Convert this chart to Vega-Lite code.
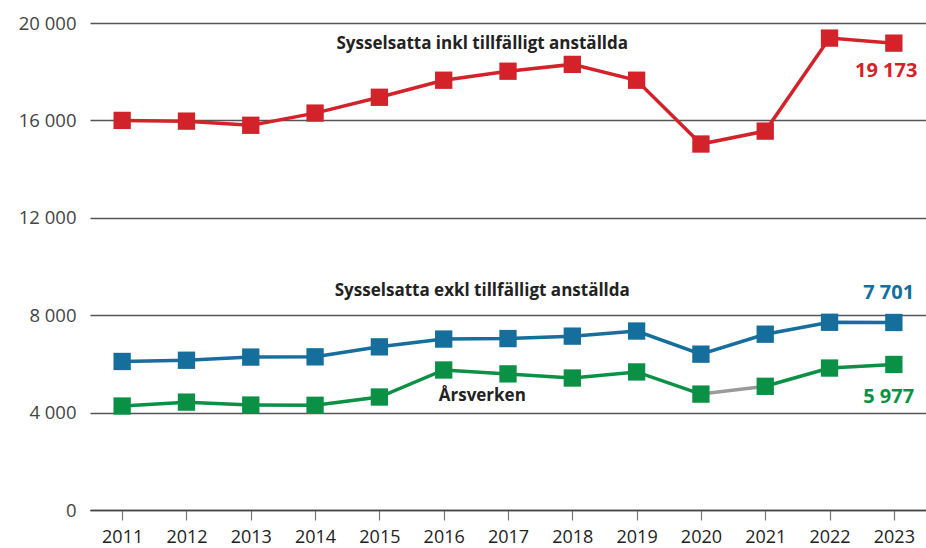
{
  "$schema": "https://vega.github.io/schema/vega-lite/v6.json",
  "autosize": {"type": "none"},
  "width": 836,
  "height": 487,
  "padding": {"left": 90, "top": 23, "right": 0, "bottom": 38},
  "background": "white",
  "config": {"view": {"stroke": null}, "font": "Open Sans"},
  "resolve": {"scale": {"color": "independent"}},
  "datasets": {
    "points": [
      {"series": "inkl", "year": 2011, "value": 16000},
      {"series": "inkl", "year": 2012, "value": 15970},
      {"series": "inkl", "year": 2013, "value": 15800},
      {"series": "inkl", "year": 2014, "value": 16300},
      {"series": "inkl", "year": 2015, "value": 16950},
      {"series": "inkl", "year": 2016, "value": 17650},
      {"series": "inkl", "year": 2017, "value": 18020},
      {"series": "inkl", "year": 2018, "value": 18300},
      {"series": "inkl", "year": 2019, "value": 17650},
      {"series": "inkl", "year": 2020, "value": 15030},
      {"series": "inkl", "year": 2021, "value": 15560},
      {"series": "inkl", "year": 2022, "value": 19380},
      {"series": "inkl", "year": 2023, "value": 19173},
      {"series": "exkl", "year": 2011, "value": 6100},
      {"series": "exkl", "year": 2012, "value": 6150},
      {"series": "exkl", "year": 2013, "value": 6280},
      {"series": "exkl", "year": 2014, "value": 6290},
      {"series": "exkl", "year": 2015, "value": 6700},
      {"series": "exkl", "year": 2016, "value": 7020},
      {"series": "exkl", "year": 2017, "value": 7040},
      {"series": "exkl", "year": 2018, "value": 7140},
      {"series": "exkl", "year": 2019, "value": 7350},
      {"series": "exkl", "year": 2020, "value": 6400},
      {"series": "exkl", "year": 2021, "value": 7220},
      {"series": "exkl", "year": 2022, "value": 7710},
      {"series": "exkl", "year": 2023, "value": 7701},
      {"series": "arsv", "year": 2011, "value": 4270},
      {"series": "arsv", "year": 2012, "value": 4430},
      {"series": "arsv", "year": 2013, "value": 4310},
      {"series": "arsv", "year": 2014, "value": 4300},
      {"series": "arsv", "year": 2015, "value": 4640},
      {"series": "arsv", "year": 2016, "value": 5750},
      {"series": "arsv", "year": 2017, "value": 5590},
      {"series": "arsv", "year": 2018, "value": 5420},
      {"series": "arsv", "year": 2019, "value": 5670},
      {"series": "arsv", "year": 2020, "value": 4760},
      {"series": "arsv", "year": 2021, "value": 5080},
      {"series": "arsv", "year": 2022, "value": 5830},
      {"series": "arsv", "year": 2023, "value": 5977}
    ],
    "lines": [
      {"seg": "inkl", "year": 2011, "value": 16000},
      {"seg": "inkl", "year": 2012, "value": 15970},
      {"seg": "inkl", "year": 2013, "value": 15800},
      {"seg": "inkl", "year": 2014, "value": 16300},
      {"seg": "inkl", "year": 2015, "value": 16950},
      {"seg": "inkl", "year": 2016, "value": 17650},
      {"seg": "inkl", "year": 2017, "value": 18020},
      {"seg": "inkl", "year": 2018, "value": 18300},
      {"seg": "inkl", "year": 2019, "value": 17650},
      {"seg": "inkl", "year": 2020, "value": 15030},
      {"seg": "inkl", "year": 2021, "value": 15560},
      {"seg": "inkl", "year": 2022, "value": 19380},
      {"seg": "inkl", "year": 2023, "value": 19173},
      {"seg": "exkl", "year": 2011, "value": 6100},
      {"seg": "exkl", "year": 2012, "value": 6150},
      {"seg": "exkl", "year": 2013, "value": 6280},
      {"seg": "exkl", "year": 2014, "value": 6290},
      {"seg": "exkl", "year": 2015, "value": 6700},
      {"seg": "exkl", "year": 2016, "value": 7020},
      {"seg": "exkl", "year": 2017, "value": 7040},
      {"seg": "exkl", "year": 2018, "value": 7140},
      {"seg": "exkl", "year": 2019, "value": 7350},
      {"seg": "exkl", "year": 2020, "value": 6400},
      {"seg": "exkl", "year": 2021, "value": 7220},
      {"seg": "exkl", "year": 2022, "value": 7710},
      {"seg": "exkl", "year": 2023, "value": 7701},
      {"seg": "arsv_a", "year": 2011, "value": 4270},
      {"seg": "arsv_a", "year": 2012, "value": 4430},
      {"seg": "arsv_a", "year": 2013, "value": 4310},
      {"seg": "arsv_a", "year": 2014, "value": 4300},
      {"seg": "arsv_a", "year": 2015, "value": 4640},
      {"seg": "arsv_a", "year": 2016, "value": 5750},
      {"seg": "arsv_a", "year": 2017, "value": 5590},
      {"seg": "arsv_a", "year": 2018, "value": 5420},
      {"seg": "arsv_a", "year": 2019, "value": 5670},
      {"seg": "arsv_a", "year": 2020, "value": 4760},
      {"seg": "break", "year": 2020, "value": 4760},
      {"seg": "break", "year": 2021, "value": 5080},
      {"seg": "arsv_b", "year": 2021, "value": 5080},
      {"seg": "arsv_b", "year": 2022, "value": 5830},
      {"seg": "arsv_b", "year": 2023, "value": 5977}
    ],
    "labels": [
      {"kind": "title", "text": "Sysselsatta inkl tillfälligt anställda", "year": 2016.6, "value": 19150},
      {"kind": "title", "text": "Sysselsatta exkl tillfälligt anställda", "year": 2016.6, "value": 8990},
      {"kind": "title", "text": "Årsverken", "year": 2016.6, "value": 4680},
      {"kind": "inkl", "text": "19 173", "year": 2022.88, "value": 18030},
      {"kind": "exkl", "text": "7 701", "year": 2022.92, "value": 8910},
      {"kind": "arsv", "text": "5 977", "year": 2022.92, "value": 4640}
    ]
  },
  "encoding": {
    "x": {
      "field": "year", "type": "quantitative",
      "scale": {"domain": [2010.5, 2023.5], "nice": false, "zero": false},
      "axis": {
        "values": [2011, 2012, 2013, 2014, 2015, 2016, 2017, 2018, 2019, 2020, 2021, 2022, 2023],
        "format": "d", "title": null, "grid": false,
        "domain": true, "domainColor": "#444", "domainWidth": 1.5,
        "ticks": true, "tickColor": "#777", "tickSize": 10, "tickWidth": 1.2,
        "labelFontSize": 18, "labelColor": "#222", "labelPadding": 8,
        "labelFont": "Open Sans"
      }
    },
    "y": {
      "field": "value", "type": "quantitative",
      "scale": {"domain": [0, 20000], "nice": false},
      "axis": {
        "values": [0, 4000, 8000, 12000, 16000, 20000],
        "labelExpr": "replace(format(datum.value, ','), ',', ' ')",
        "title": null, "domain": false, "ticks": false,
        "grid": true, "gridColor": "#555", "gridWidth": 1.3,
        "labelFontSize": 18.5, "labelColor": "#444", "labelPadding": 14,
        "labelFont": "Open Sans"
      }
    }
  },
  "layer": [
    {
      "data": {"name": "lines"},
      "mark": {"type": "line", "strokeWidth": 3.5},
      "encoding": {
        "detail": {"field": "seg"},
        "color": {
          "field": "seg", "type": "nominal", "legend": null,
          "scale": {
            "domain": ["inkl", "exkl", "arsv_a", "arsv_b", "break"],
            "range": ["#d2232a", "#156e9b", "#0b9146", "#0b9146", "#9a9a9a"]
          }
        }
      }
    },
    {
      "data": {"name": "points"},
      "mark": {"type": "square", "size": 300, "opacity": 1, "filled": true},
      "encoding": {
        "color": {
          "field": "series", "type": "nominal", "legend": null,
          "scale": {
            "domain": ["inkl", "exkl", "arsv"],
            "range": ["#d2232a", "#156e9b", "#0b9146"]
          }
        }
      }
    },
    {
      "data": {"name": "labels"},
      "transform": [{"filter": "datum.kind == 'title'"}],
      "mark": {"type": "text", "fontSize": 17, "fontWeight": "bold", "color": "#222", "align": "center", "baseline": "middle", "font": "Open Sans"},
      "encoding": {"text": {"field": "text"}}
    },
    {
      "data": {"name": "labels"},
      "transform": [{"filter": "datum.kind != 'title'"}],
      "mark": {"type": "text", "fontSize": 20, "fontWeight": "bold", "align": "center", "baseline": "middle", "font": "Open Sans"},
      "encoding": {
        "text": {"field": "text"},
        "color": {
          "field": "kind", "type": "nominal", "legend": null,
          "scale": {
            "domain": ["inkl", "exkl", "arsv"],
            "range": ["#d2232a", "#156e9b", "#0b9146"]
          }
        }
      }
    }
  ]
}
